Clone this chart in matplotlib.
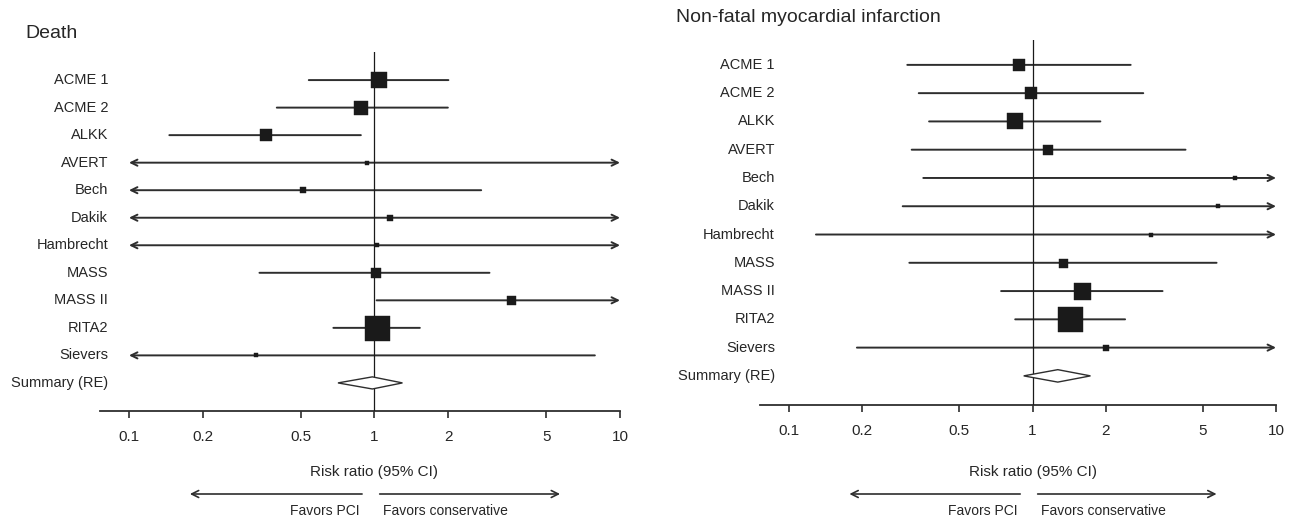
import numpy as np
import matplotlib
matplotlib.use("Agg")
import matplotlib.pyplot as plt
from matplotlib.patches import Polygon
from matplotlib.transforms import blended_transform_factory as btf

plt.rcParams['font.family'] = ['Liberation Sans', 'DejaVu Sans']

# ---------------- data ----------------
studies = ["ACME 1", "ACME 2", "ALKK", "AVERT", "Bech", "Dakik", "Hambrecht",
           "MASS", "MASS II", "RITA2", "Sievers"]
summary_label = "Summary (RE)"

# Death (None = CI bound beyond the plotted range)
death_rr = [1.04, 0.88, 0.36, 0.93, 0.51, 1.16, 1.02, 1.01, 3.6, 1.02, 0.33]
death_lo = [0.54, 0.40, 0.146, None, None, None, None, 0.34, 1.02, 0.68, None]
death_hi = [2.00, 1.99, 0.88, None, 2.72, None, None, 2.94, None, 1.53, 7.9]
death_wt = [16, 13.5, 12, 5, 5.5, 5.5, 3.5, 10.5, 9, 25, 4.5]
death_summary = [0.98, 0.71, 1.30]   # estimate, lower, upper

# Non-fatal myocardial infarction
mi_rr = [0.88, 0.99, 0.845, 1.16, 6.8, 5.8, 3.07, 1.34, 1.59, 1.42, 2.01]
mi_lo = [0.306, 0.341, 0.376, 0.319, 0.356, 0.293, 0.129, 0.312, 0.743, 0.849, 0.190]
mi_hi = [2.53, 2.85, 1.90, 4.25, None, None, None, 5.70, 3.42, 2.40, None]
mi_wt = [12.5, 12.5, 16.5, 10, 5, 5, 4, 9, 17, 25, 6]
mi_summary = [1.27, 0.92, 1.73]

tick_vals = [0.1, 0.2, 0.5, 1, 2, 5, 10]
tick_labels = ["0.1", "0.2", "0.5", "1", "2", "5", "10"]
titles = ["Death", "Non-fatal myocardial infarction"]
xlabel = "Risk ratio (95% CI)"
favor_left = "Favors PCI"
favor_right = "Favors conservative"

# ---------------- figure ----------------
W, H = 1289, 518
fig = plt.figure(figsize=(W / 100, H / 100), dpi=100)
TXT = '#262626'
LN = '#2e2e2e'


def fx(px):
    return px / W


def fy(py):
    return 1 - py / H


def forest(ax_box, ylim, xlim, rr, lo, hi, wt, summ, label_right_px, title, title_xy):
    l, r, top, bot = ax_box
    ax = fig.add_axes([fx(l), fy(bot), fx(r) - fx(l), fy(top) - fy(bot)])
    ax.set_xscale('log')
    ax.set_xlim(*xlim)
    ax.set_ylim(*ylim)
    amin, amax = 0.1, 10
    n = len(rr)
    for i in range(n):
        y = i
        a = lo[i] if lo[i] is not None else amin
        b = hi[i] if hi[i] is not None else amax
        left_arrow = lo[i] is None
        right_arrow = hi[i] is None
        if left_arrow and right_arrow:
            st = '<->'
        elif left_arrow:
            st = '->'
        elif right_arrow:
            st = '<-'
        else:
            st = '-'
        ax.annotate('', xy=(a, y), xytext=(b, y),
                    arrowprops=dict(arrowstyle=st + (',head_length=0.45,head_width=0.22' if st != '-' else ''),
                                    lw=1.4, color=LN, shrinkA=0, shrinkB=0))
        ax.plot(rr[i], y, marker='s', ms=wt[i] * 0.72, color='#1a1a1a',
                mec='#1a1a1a', mew=0.3, zorder=5)
    # summary diamond
    ys = n
    est, slo, shi = summ
    h = 0.22
    ax.add_patch(Polygon([(slo, ys), (est, ys - h), (shi, ys), (est, ys + h)],
                         closed=True, fc='white', ec=LN, lw=1.0, zorder=4))
    # reference line
    ax.axvline(1, color='#1a1a1a', lw=0.9, zorder=3)
    # axes styling
    for s in ['top', 'left', 'right']:
        ax.spines[s].set_visible(False)
    ax.spines['bottom'].set_linewidth(1.3)
    ax.spines['bottom'].set_color(LN)
    ax.set_xticks(tick_vals)
    ax.set_xticklabels(tick_labels)
    ax.minorticks_off()
    ax.tick_params(axis='x', direction='out', length=5, width=1.2, color=LN,
                   pad=9, labelsize=11, labelcolor=TXT)
    ax.set_yticks([])
    ax.patch.set_alpha(0)
    # row labels
    tr = btf(fig.transFigure, ax.transData)
    for i, name in enumerate(studies + [summary_label]):
        ax.text(fx(label_right_px), i, name, transform=tr,
                ha='right', va='center', fontsize=10.5, color=TXT, clip_on=False)
    # title
    fig.text(fx(title_xy[0]), fy(title_xy[1]), title, ha='left', va='center',
             fontsize=14, color=TXT)
    return ax


axL = forest((100, 620, 52, 411), (12.02, -1.02), (0.0762, 10),
             death_rr, death_lo, death_hi, death_wt, death_summary, 108,
             titles[0], (25, 33))
axR = forest((760, 1276, 40, 405), (12.03, -0.88), (0.0760, 10),
             mi_rr, mi_lo, mi_hi, mi_wt, mi_summary, 775,
             titles[1], (676, 18))

for ax in (axL, axR):
    tr = btf(ax.transData, fig.transFigure)
    ax.text(1, fy(472), xlabel, transform=tr, ha='center', va='center',
            fontsize=11, color=TXT, clip_on=False)
    # favour arrows
    ax.annotate('', xy=(0.177, fy(494)), xycoords=tr, xytext=(0.89, fy(494)), textcoords=tr,
                arrowprops=dict(arrowstyle='->,head_length=0.5,head_width=0.25', lw=1.2,
                                color=LN, shrinkA=0, shrinkB=0), annotation_clip=False)
    ax.annotate('', xy=(5.7, fy(494)), xycoords=tr, xytext=(1.05, fy(494)), textcoords=tr,
                arrowprops=dict(arrowstyle='->,head_length=0.5,head_width=0.25', lw=1.2,
                                color=LN, shrinkA=0, shrinkB=0), annotation_clip=False)
    ax.text(0.87, fy(511), favor_left, transform=tr, ha='right', va='center',
            fontsize=10, color=TXT, clip_on=False)
    ax.text(1.08, fy(511), favor_right, transform=tr, ha='left', va='center',
            fontsize=10, color=TXT, clip_on=False)

fig.savefig('out.png', dpi=100, facecolor='white')
